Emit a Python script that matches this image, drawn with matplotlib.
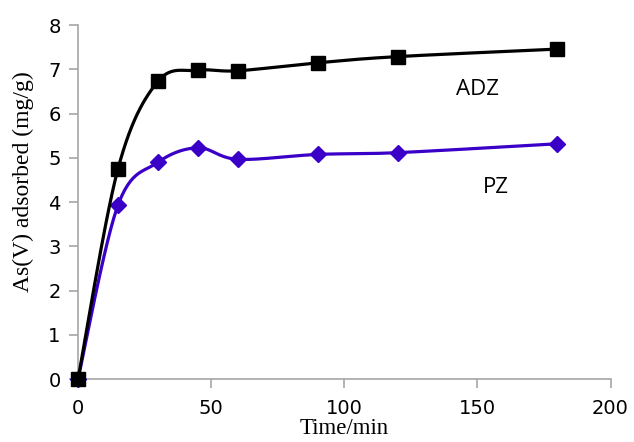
import numpy as np
import matplotlib.pyplot as plt

# contact time (min) and adsorbed amount (mg/g)
time_min = [0, 15, 30, 45, 60, 90, 120, 180]
adz = [0, 4.75, 6.73, 6.98, 6.97, 7.15, 7.29, 7.46]
pz = [0, 3.93, 4.90, 5.23, 4.97, 5.08, 5.12, 5.32]

x_ticks = [0, 50, 100, 150, 200]
y_ticks = [0, 1, 2, 3, 4, 5, 6, 7, 8]


def smooth_path(x, y, n=30):
    """Catmull-Rom curve through the points, like a spreadsheet 'smoothed line'."""
    x = np.asarray(x, float)
    y = np.asarray(y, float)
    px = np.concatenate([[x[0]], x, [x[-1]]])
    py = np.concatenate([[y[0]], y, [y[-1]]])
    xs, ys = [], []
    t = np.linspace(0, 1, n)
    for i in range(1, len(px) - 2):
        p0, p1, p2, p3 = (np.array([px[j], py[j]]) for j in range(i - 1, i + 3))
        c1 = p1 + (p2 - p0) / 6
        c2 = p2 - (p3 - p1) / 6
        b = ((1 - t) ** 3)[:, None] * p1 + (3 * (1 - t) ** 2 * t)[:, None] * c1 \
            + (3 * (1 - t) * t ** 2)[:, None] * c2 + (t ** 3)[:, None] * p2
        xs.extend(b[:, 0])
        ys.extend(b[:, 1])
    return xs, ys


fig = plt.figure(figsize=(6.34, 4.42), dpi=100)
ax = fig.add_axes([0.123, 0.142, 0.840, 0.801])

blue = '#3a00c8'
sx, sy = smooth_path(time_min, pz)
ax.plot(sx, sy, color=blue, lw=2.3, zorder=2)
ax.plot(time_min, pz, 'D', color=blue, ms=8.5, zorder=3)

sx, sy = smooth_path(time_min, adz)
ax.plot(sx, sy, color='black', lw=2.3, zorder=4)
ax.plot(time_min, adz, 's', color='black', ms=10.5, zorder=5)

ax.text(150, 6.55, 'ADZ', fontsize=16, family='Open Sans', ha='center', va='center')
ax.text(157, 4.33, 'PZ', fontsize=16, family='Open Sans', ha='center', va='center')

ax.set_xlim(0, 200)
ax.set_ylim(0, 8)
ax.set_xticks(x_ticks)
ax.set_yticks(y_ticks)
ax.spines['top'].set_visible(False)
ax.spines['right'].set_visible(False)
for s in ('left', 'bottom'):
    ax.spines[s].set_color('#a6a6a6')
    ax.spines[s].set_linewidth(1.2)
ax.tick_params(colors='#a6a6a6', labelcolor='black', length=6.5, width=1.2,
               labelsize=14)
ax.tick_params(axis='x', pad=7.5)
ax.tick_params(axis='y', pad=6)
for lab in ax.get_xticklabels() + ax.get_yticklabels():
    lab.set_family('DejaVu Sans')

ax.set_xlabel('Time/min', family='Liberation Serif', fontsize=16.5)
ax.xaxis.label.set_va('bottom')
ax.xaxis.set_label_coords(0.5, -0.170)
ax.set_ylabel('As(V) adsorbed (mg/g)', family='Liberation Serif', fontsize=17)
ax.yaxis.label.set_va('center')
ax.yaxis.set_label_coords(-0.103, 0.557)
for line in ax.lines:
    line.set_clip_on(False)

fig.savefig('out.png', dpi=100)
